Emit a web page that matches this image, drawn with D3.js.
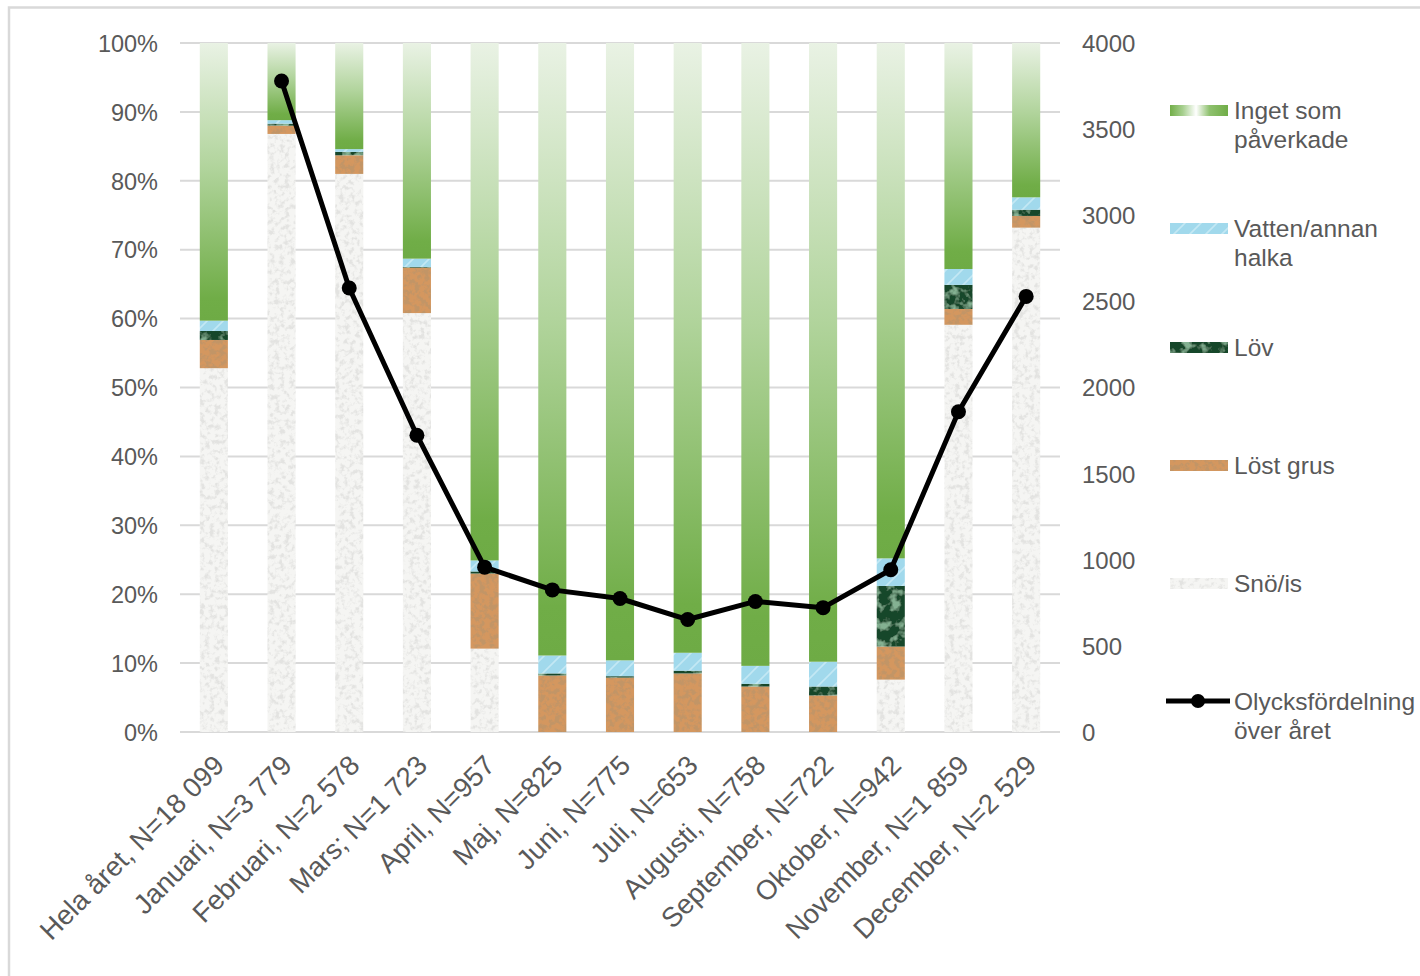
<!DOCTYPE html>
<html>
<head>
<meta charset="utf-8">
<script src="https://cdn.jsdelivr.net/npm/d3@7"></script>
<style>
  html, body { margin: 0; padding: 0; background: #ffffff; }
  svg { display: block; }
  text { font-family: "Liberation Sans", Arial, sans-serif; fill: #595959; }
</style>
</head>
<body>
<svg id="chart" width="1420" height="976"></svg>
<script>
// ---------- data ----------
const categories = ["Hela året, N=18 099", "Januari, N=3 779", "Februari, N=2 578", "Mars; N=1 723",
  "April, N=957", "Maj, N=825", "Juni, N=775", "Juli, N=653", "Augusti, N=758",
  "September, N=722", "Oktober, N=942", "November, N=1 859", "December, N=2 529"];
const snoIs   = [52.8, 86.8, 81.0, 60.8, 12.1, 0.0, 0.0, 0.0, 0.0, 0.0, 7.6, 59.1, 73.2];
const lostGrus = [4.1, 1.2, 2.7, 6.6, 10.9, 8.2, 7.9, 8.5, 6.6, 5.3, 4.8, 2.3, 1.7];
const lov     = [1.3, 0.3, 0.5, 0.1, 0.3, 0.3, 0.2, 0.4, 0.4, 1.3, 8.8, 3.5, 0.9];
const vatten  = [1.5, 0.5, 0.4, 1.2, 1.6, 2.6, 2.3, 2.6, 2.6, 3.6, 4.0, 2.3, 1.8];
const inget   = [40.3, 11.2, 15.4, 31.3, 75.1, 88.9, 89.6, 88.5, 90.4, 89.8, 74.8, 32.8, 22.4];
const olyckor = [null, 3779, 2578, 1723, 957, 825, 775, 653, 758, 722, 942, 1859, 2529];
const leftTicks = [0, 10, 20, 30, 40, 50, 60, 70, 80, 90, 100];
const rightTicks = [0, 500, 1000, 1500, 2000, 2500, 3000, 3500, 4000];
const seriesKeys = ["sno", "grus", "lov", "vatten", "inget"];

// ---------- setup ----------
const svg = d3.select("#chart");
const defs = svg.append("defs");

// border
svg.append("rect").attr("x", 9).attr("y", 7.5).attr("width", 1430).attr("height", 1000)
  .attr("fill", "none").attr("stroke", "#d9d9d9").attr("stroke-width", 2.5);

const x = d3.scaleBand().domain(categories).range([180, 1060]).paddingInner(0.585).paddingOuter(0.2925);
const yL = d3.scaleLinear().domain([0, 100]).range([732, 43]);
const yR = d3.scaleLinear().domain([0, 4000]).range([732, 43]);

// ---------- fills ----------
function noiseFilter(id, base, speck, freq, lo, hi, seed, maxA) {
  const f = defs.append("filter").attr("id", id)
    .attr("x", 0).attr("y", 0).attr("width", 1).attr("height", 1);
  f.append("feTurbulence").attr("type", "fractalNoise").attr("baseFrequency", freq)
    .attr("numOctaves", 3).attr("seed", seed).attr("result", "n");
  const c = d3.color(speck);
  const k = maxA / (hi - lo);
  f.append("feColorMatrix").attr("in", "n").attr("type", "matrix")
    .attr("values", `0 0 0 0 ${c.r/255}  0 0 0 0 ${c.g/255}  0 0 0 0 ${c.b/255}  ${k} 0 0 0 ${-lo*k}`)
    .attr("result", "spk");
  f.append("feFlood").attr("flood-color", base).attr("result", "bg");
  f.append("feComposite").attr("in", "spk").attr("in2", "bg").attr("operator", "over").attr("result", "m");
  f.append("feComposite").attr("in", "m").attr("in2", "SourceGraphic").attr("operator", "in");
}
noiseFilter("fSno", "#f5f5f3", "#c4c4c0", 0.2, 0.47, 0.62, 4, 0.6);
noiseFilter("fGrus", "#d4975f", "#8a4d22", 0.2, 0.44, 0.6, 7, 0.85);
noiseFilter("fLov", "#19472a", "#3b7049", 0.1, 0.48, 0.62, 11, 0.6);

// green gradient (vertical) for "Inget som påverkade"
const gIng = defs.append("linearGradient").attr("id", "gInget")
  .attr("x1", 0).attr("y1", 0).attr("x2", 0).attr("y2", 1);
gIng.append("stop").attr("offset", 0).attr("stop-color", "#e9f2e4");
gIng.append("stop").attr("offset", 0.45).attr("stop-color", "#b1d49c");
gIng.append("stop").attr("offset", 0.92).attr("stop-color", "#70ad47");
gIng.append("stop").attr("offset", 1).attr("stop-color", "#6eab45");

// legend gradient (horizontal)
const gLeg = defs.append("linearGradient").attr("id", "gIngetLeg")
  .attr("x1", 0).attr("y1", 0).attr("x2", 1).attr("y2", 0);
gLeg.append("stop").attr("offset", 0).attr("stop-color", "#72ae49");
gLeg.append("stop").attr("offset", 0.22).attr("stop-color", "#a6cf8e");
gLeg.append("stop").attr("offset", 0.45).attr("stop-color", "#ffffff");
gLeg.append("stop").attr("offset", 0.68).attr("stop-color", "#8fc16f");
gLeg.append("stop").attr("offset", 1).attr("stop-color", "#70ad47");

// water hatch pattern
const pW = defs.append("pattern").attr("id", "pVatten").attr("patternUnits", "userSpaceOnUse")
  .attr("width", 16).attr("height", 16);
pW.append("rect").attr("width", 16).attr("height", 16).attr("fill", "#a1d9ec");
pW.append("path").attr("d", "M-2,18 L18,-2 M-4,4 L4,-4 M12,20 L20,12")
  .attr("stroke", "#c3e8f4").attr("stroke-width", 1.6);

const fills = {
  sno: { fill: "#f4f4f2", filter: "url(#fSno)" },
  grus: { fill: "#d4975f", filter: "url(#fGrus)" },
  lov: { fill: "#19472a", filter: "url(#fLov)" },
  vatten: { fill: "url(#pVatten)", filter: null },
  inget: { fill: "url(#gInget)", filter: null }
};

// ---------- gridlines ----------
svg.append("g").selectAll("line").data(leftTicks).join("line")
  .attr("x1", 180).attr("x2", 1060)
  .attr("y1", d => yL(d)).attr("y2", d => yL(d))
  .attr("stroke", "#d9d9d9").attr("stroke-width", 2);

// ---------- stacked bars ----------
const table = categories.map((c, i) => ({
  cat: c, sno: snoIs[i], grus: lostGrus[i], lov: lov[i], vatten: vatten[i], inget: inget[i]
}));
const stack = d3.stack().keys(seriesKeys)(table);
const gBars = svg.append("g");
stack.forEach(layer => {
  const key = layer.key;
  gBars.append("g").selectAll("rect").data(layer).join("rect")
    .attr("x", d => x(d.data.cat))
    .attr("width", x.bandwidth())
    .attr("y", d => yL(d[1]))
    .attr("height", d => Math.max(0, yL(d[0]) - yL(d[1])))
    .attr("fill", fills[key].fill)
    .attr("filter", fills[key].filter);
});

// ---------- axes ----------
const font = "'Liberation Sans', Arial, sans-serif";
const axL = svg.append("g").attr("transform", "translate(158,0)")
  .call(d3.axisLeft(yL).tickValues(leftTicks).tickSize(0).tickFormat(d => d + "%"));
axL.select(".domain").remove();
axL.selectAll("text").attr("x", 0).attr("dy", "0.35em")
  .style("font-size", "23.5px").style("fill", "#595959").style("font-family", font);

const axR = svg.append("g").attr("transform", "translate(1082,0)")
  .call(d3.axisRight(yR).tickValues(rightTicks).tickSize(0).tickFormat(d3.format("d")));
axR.select(".domain").remove();
axR.selectAll("text").attr("x", 0).attr("dy", "0.35em")
  .style("font-size", "24px").style("fill", "#595959").style("font-family", font);

// x labels
const axB = svg.append("g").attr("transform", "translate(0,732)")
  .call(d3.axisBottom(x).tickSize(0));
axB.select(".domain").remove();
axB.selectAll(".tick text")
  .attr("text-anchor", "end")
  .attr("x", 0).attr("y", 0).attr("dy", 0)
  .attr("transform", "translate(12,35) rotate(-45)")
  .style("font-size", "27.5px").style("fill", "#595959").style("font-family", font);

// ---------- line ----------
const cx = c => x(c) + x.bandwidth() / 2;
const pts = categories.map((c, i) => ({ c, v: olyckor[i] })).filter(d => d.v !== null);
svg.append("path").datum(pts)
  .attr("fill", "none").attr("stroke", "#000").attr("stroke-width", 5)
  .attr("stroke-linejoin", "round").attr("stroke-linecap", "round")
  .attr("d", d3.line().x(d => cx(d.c)).y(d => yR(d.v)));
svg.append("g").selectAll("circle").data(pts).join("circle")
  .attr("cx", d => cx(d.c)).attr("cy", d => yR(d.v)).attr("r", 7.5).attr("fill", "#000");

// ---------- legend ----------
const legendItems = [
  { lines: ["Inget som", "påverkade"], y: 110, swatch: "url(#gIngetLeg)", filter: null },
  { lines: ["Vatten/annan", "halka"], y: 228, swatch: "url(#pVatten)", filter: null },
  { lines: ["Löv"], y: 347, swatch: "#19472a", filter: "url(#fLov)" },
  { lines: ["Löst grus"], y: 465, swatch: "#d4975f", filter: "url(#fGrus)" },
  { lines: ["Snö/is"], y: 583, swatch: "#f0f0ee", filter: "url(#fSno)" },
  { lines: ["Olycksfördelning", "över året"], y: 701, line: true }
];
const lg = svg.append("g");
legendItems.forEach(it => {
  if (it.line) {
    lg.append("line").attr("x1", 1166).attr("x2", 1230).attr("y1", it.y).attr("y2", it.y)
      .attr("stroke", "#000").attr("stroke-width", 5);
    lg.append("circle").attr("cx", 1198).attr("cy", it.y).attr("r", 7).attr("fill", "#000");
  } else {
    lg.append("rect").attr("x", 1170).attr("y", it.y - 5).attr("width", 58).attr("height", 11)
      .attr("fill", it.swatch).attr("filter", it.filter);
  }
  const t = lg.append("text").attr("x", 1234).attr("y", it.y)
    .style("font-size", "24.5px");
  it.lines.forEach((l, j) => {
    t.append("tspan").attr("x", 1234).attr("dy", j === 0 ? "0.35em" : "29.5px").text(l);
  });
});
</script>
</body>
</html>
